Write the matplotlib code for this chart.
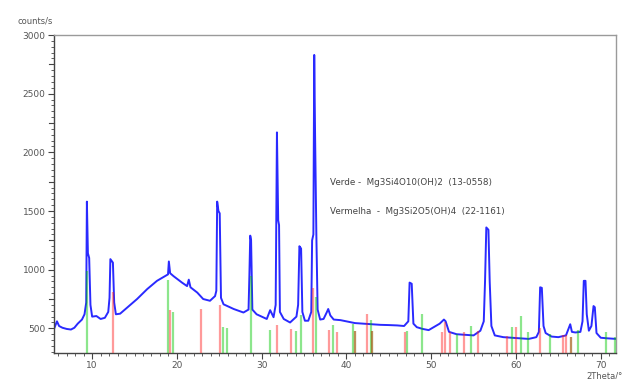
import matplotlib
matplotlib.use("Agg")
import matplotlib.pyplot as plt
import matplotlib.transforms as mtransforms
from matplotlib.ticker import MultipleLocator
import numpy as np

# Measured diffractogram: 2Theta (deg) and intensity (counts/s)
two_theta = [5.5, 5.85, 6.1, 6.5, 7.0, 7.5, 7.9, 8.3, 8.8, 9.1, 9.3, 9.38, 9.5, 9.65, 9.8, 10.0,
             10.5, 11.0, 11.5, 11.9, 12.05, 12.15, 12.45, 12.6, 12.8, 13.3, 14.1, 15.3, 16.5,
             17.65, 18.6, 18.95, 19.05, 19.2, 19.6, 20.6, 21.2, 21.4, 21.6, 22.4, 23.1, 23.9,
             24.5, 24.65, 24.75, 24.9, 25.05, 25.2, 25.5, 26.7, 27.85, 28.45, 28.55, 28.65,
             28.75, 28.9, 29.4, 30.6, 31.0, 31.4, 31.65, 31.8, 31.95, 32.05, 32.15, 32.6, 33.35,
             34.1, 34.3, 34.45, 34.65, 34.8, 35.1, 35.5, 35.85, 35.95, 36.1, 36.2, 36.3, 36.45,
             36.6, 36.9, 37.3, 37.7, 37.85, 38.1, 38.5, 39.3, 40.0, 41.0, 42.0, 43.0, 44.0, 45.0,
             46.0, 46.8, 47.3, 47.45, 47.7, 47.9, 48.3, 49.0, 49.7, 50.3, 51.0, 51.5, 51.7, 52.1,
             53.0, 54.0, 55.0, 55.8, 56.2, 56.35, 56.5, 56.75, 56.9, 57.1, 57.5, 58.5, 59.6,
             60.5, 61.5, 62.4, 62.7, 62.85, 63.05, 63.25, 63.5, 64.2, 65.0, 65.9, 66.4, 66.6,
             67.0, 67.6, 67.85, 68.0, 68.2, 68.35, 68.6, 68.9, 69.15, 69.3, 69.5, 70.0, 70.8,
             71.8]
counts = [495, 560, 520, 505, 495, 490, 505, 540, 575, 620, 720, 1580, 1140, 1100, 700, 600,
          605, 580, 590, 640, 760, 1090, 1060, 720, 620, 625, 675, 750, 835,
          905, 945, 960, 1070, 970, 945, 890, 860, 915, 850, 805, 750, 735,
          775, 820, 1580, 1500, 1480, 760, 705, 665, 635, 660, 950, 1290,
          1250, 660, 620, 580, 655, 595, 700, 2170, 1420, 1380, 640, 580, 550,
          600, 700, 1200, 1180, 640, 565, 565, 640, 1250, 1300, 2830, 2150, 1300,
          660, 575, 580, 640, 665, 610, 575, 570, 560, 545, 540, 535, 530, 528,
          525, 520, 560, 890, 880, 540, 510, 495, 485, 510, 540, 575, 560, 470,
          450, 445, 440, 480, 560, 900, 1360, 1340, 900, 520, 440, 425, 420,
          415, 410, 425, 470, 850, 845, 520, 460, 430, 425, 440, 535, 470,
          465, 470, 560, 905, 905, 620, 480, 520, 690, 680, 460, 420, 415,
          410]

# Reference line patterns (position, scaled intensity)
verde_pos = [9.45, 18.95, 19.5, 25.4, 25.95, 28.7, 30.95, 34.1, 34.65, 36.35, 38.45, 40.8,
             41.05, 42.85, 43.05, 47.2, 48.9, 53.1, 54.75, 59.5, 60.55, 61.45, 64.0, 66.45,
             67.3, 70.65, 71.7]
verde_int = [990, 910, 640, 510, 500, 950, 490, 480, 610, 770, 525, 535,
             480, 570, 480, 475, 620, 450, 520, 515, 607, 470, 450, 425,
             485, 470, 425]

vermelha_pos = [12.45, 19.2, 22.8, 25.05, 31.8, 33.45, 36.0, 37.95, 38.85, 41.05, 42.4, 43.05,
                46.95, 51.3, 51.65, 52.25, 53.9, 55.55, 58.95, 60.05, 62.8, 65.55, 65.95, 66.45]
vermelha_int = [810, 655, 665, 697, 530, 493, 840, 490, 468, 480, 620, 480,
                468, 470, 555, 465, 466, 480, 436, 515, 505, 440, 440, 425]

legend_lines = ["Verde -  Mg3Si4O10(OH)2  (13-0558)",
                "Vermelha  -  Mg3Si2O5(OH)4  (22-1161)"]

x_min, x_max = 5.5, 71.8
y_min, y_max = 290, 3000

fig = plt.figure(figsize=(6.23, 3.79), dpi=100)
ax = fig.add_axes([54 / 623, 1 - 353 / 379, (616 - 54) / 623, (353 - 35) / 379])

ax.plot(two_theta, counts, color="#2a2aff", lw=1.4, zorder=2, solid_joinstyle="round")

ax.vlines(verde_pos, y_min, verde_int, colors="#00c800", alpha=0.45, lw=1.6, zorder=3)
ax.vlines(vermelha_pos, y_min, vermelha_int, colors="#ff2020", alpha=0.45, lw=1.6, zorder=3)

ax.set_xlim(x_min, x_max)
ax.set_ylim(y_min, y_max)

txt_color = "#555555"
ax.xaxis.set_major_locator(MultipleLocator(10))
ax.xaxis.set_minor_locator(MultipleLocator(1))
ax.yaxis.set_major_locator(MultipleLocator(500))
ax.yaxis.set_minor_locator(MultipleLocator(50))
ax.tick_params(axis="both", which="major", direction="out", length=4, width=0.8,
               color="#444444", labelsize=6.5, labelcolor=txt_color, pad=2)
ax.tick_params(axis="both", which="minor", direction="out", length=2, width=0.6,
               color="#444444")
ax.set_yticks([500, 1000, 1500, 2000, 2500, 3000])

# mid-step marks between the labelled counts
trans = mtransforms.blended_transform_factory(ax.transAxes, ax.transData)
for yv in np.arange(750, y_max, 500):
    ax.plot([-0.009, 0], [yv, yv], transform=trans, color="#444444", lw=0.8,
            clip_on=False, zorder=1)

for side in ("left", "bottom"):
    ax.spines[side].set_color("#444444")
    ax.spines[side].set_linewidth(1.0)
for side in ("top", "right"):
    ax.spines[side].set_color("#9a9a9a")
    ax.spines[side].set_linewidth(1.0)

ax.text(38.1, 1740, legend_lines[0], fontsize=6.3, color="#444444", va="center", ha="left")
ax.text(38.1, 1495, legend_lines[1], fontsize=6.3, color="#444444", va="center", ha="left")

fig.text(35 / 623, 1 - 21 / 379, "counts/s", fontsize=6, color=txt_color,
         ha="center", va="center")
fig.text(586 / 623, 1 - 376 / 379, "2Theta/°", fontsize=6, color=txt_color,
         ha="left", va="center")

fig.savefig("out.png", dpi=100)
